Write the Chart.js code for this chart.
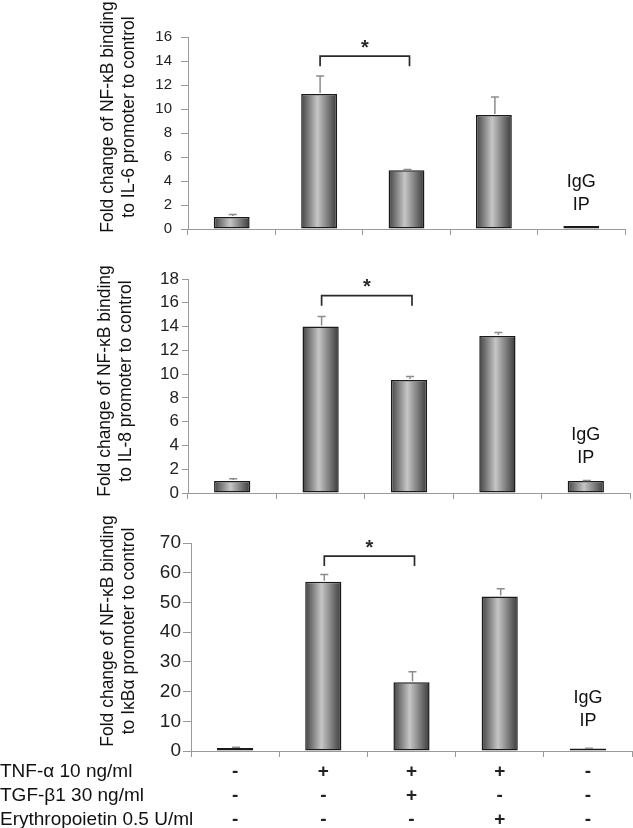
<!DOCTYPE html>
<html lang="en">
<head>
<meta charset="UTF-8">
<title>NF-kB ChIP</title>
<style>
  body { margin: 0; background: #fff; }
  .painel { position: absolute; left: 0; }
</style>
</head>
<body>
<canvas id="il6" class="painel" width="633" height="250" style="top:0px"></canvas>
<canvas id="il8" class="painel" width="633" height="262" style="top:250px"></canvas>
<canvas id="ikba" class="painel" width="633" height="316" style="top:512px"></canvas>

<script src="https://cdn.jsdelivr.net/npm/chart.js"></script>
<script>
// data
const conditions = ['control', 'TNF', 'TNF + TGF', 'TNF + EPO', 'IgG'];
const il6Values  = [1.0, 11.25, 4.9, 9.5, 0.25];
const il6Errors  = [0.2, 1.5, 0.05, 1.5, 0];
const il8Values  = [1.0, 14.0, 9.5, 13.2, 1.0];
const il8Errors  = [0.2, 0.85, 0.3, 0.3, 0.05];
const ikbaValues = [1.0, 57.0, 23.1, 52.0, 0.8];
const ikbaErrors = [0.3, 2.4, 3.6, 2.6, 0.1];
const tnfRow = ['-', '+', '+', '+', '-'];
const tgfRow = ['-', '-', '+', '-', '-'];
const epoRow = ['-', '-', '-', '+', '-'];
const rowNames = ['TNF-\u03b1 10 ng/ml', 'TGF-\u03b21 30 ng/ml', 'Erythropoietin 0.5 U/ml'];
const sigLevels = [14.4, 16.6, 65.6];   // height of the * bracket (TNF vs TNF+TGF)

const FONT = "'Liberation Sans', Arial, sans-serif";
const barShare = 0.41;
Chart.defaults.font.family = FONT;
Chart.defaults.color = '#222';

// cylinder look: dark edges, light centre
function cylinder(context) {
  const chart = context.chart;
  const xs = chart.scales.x;
  if (!xs || context.dataIndex === undefined) return '#888';
  const cx = xs.getPixelForValue(context.dataIndex);
  const half = xs.width / conditions.length * barShare / 2;
  if (!isFinite(cx) || !isFinite(half) || half <= 0) return '#888';
  const g = chart.ctx.createLinearGradient(cx - half, 0, cx + half, 0);
  g.addColorStop(0, '#424242');
  g.addColorStop(0.45, '#c6c6c6');
  g.addColorStop(1, '#3a3a3a');
  return g;
}

const errorBars = {
  id: 'errorBars',
  afterDatasetsDraw(chart, args, opts) {
    const {ctx, scales: {x, y}} = chart;
    const vals = chart.data.datasets[0].data;
    ctx.save();
    ctx.strokeStyle = '#8c8c8c';
    ctx.lineWidth = 1.5;
    opts.errors.forEach((e, i) => {
      if (!e) return;
      const px = x.getPixelForValue(i) + 1;
      const base = y.getPixelForValue(vals[i]) - 1;
      const top = y.getPixelForValue(vals[i] + e);
      ctx.beginPath();
      ctx.moveTo(px, base); ctx.lineTo(px, top);
      ctx.moveTo(px - 4, top); ctx.lineTo(px + 4, top);
      ctx.stroke();
    });
    ctx.restore();
  }
};

const extras = {
  id: 'extras',
  afterDraw(chart, args, opts) {
    const {ctx, chartArea, scales: {x, y}} = chart;
    ctx.save();
    // significance bracket
    const x1 = x.getPixelForValue(1) + 1, x2 = x.getPixelForValue(2) + 3;
    const yb = y.getPixelForValue(opts.level);
    ctx.strokeStyle = '#2a2a2a';
    ctx.lineWidth = 1.7;
    ctx.beginPath();
    ctx.moveTo(x1, yb + 10); ctx.lineTo(x1, yb); ctx.lineTo(x2, yb); ctx.lineTo(x2, yb + 10);
    ctx.stroke();
    ctx.fillStyle = '#2a2a2a';
    ctx.font = 'bold 20px ' + FONT;
    ctx.textAlign = 'center';
    ctx.textBaseline = 'middle';
    ctx.fillText('*', (x1 + x2) / 2, yb - 8);
    // IgG IP label
    ctx.fillStyle = '#111';
    ctx.font = '18px ' + FONT;
    ctx.textBaseline = 'middle';
    const xi = x.getPixelForValue(4);
    const yi = chartArea.bottom - opts.igg;
    ctx.fillText('IgG', xi, yi);
    ctx.fillText('IP', xi, yi + 23);
    // rotated y title
    ctx.font = '17.5px ' + FONT;
    const yc = (chartArea.top + chartArea.bottom) / 2 + opts.titleShift;
    opts.title.forEach((line, i) => {
      ctx.save();
      ctx.translate(opts.titleX + i * 21, yc);
      ctx.rotate(-Math.PI / 2);
      ctx.fillText(line, 0, 0);
      ctx.restore();
    });
    // treatment row names
    if (opts.rows) {
      ctx.font = '19px ' + FONT;
      ctx.textAlign = 'left';
      opts.rows.forEach((name, i) => {
        ctx.fillText(name, 0, x.top + 9 + 24 * (i + 0.5));
      });
    }
    ctx.restore();
  }
};

function makePanel(id, values, errors, o) {
  const labels = o.withRows
    ? conditions.map((c, i) => [tnfRow[i], tgfRow[i], epoRow[i]])
    : conditions;
  return new Chart(document.getElementById(id), {
    type: 'bar',
    data: {
      labels: labels,
      datasets: [{
        data: values,
        backgroundColor: cylinder,
        borderColor: '#1a1a1a',
        borderWidth: 1.5,
        borderSkipped: false,
        barPercentage: barShare,
        categoryPercentage: 1
      }]
    },
    options: {
      responsive: false,
      animation: false,
      layout: { padding: { top: o.top, right: o.right, left: 0, bottom: 0 } },
      scales: {
        x: {
          grid: { drawOnChartArea: false, offset: true, tickLength: 6, color: '#9a9a9a' },
          border: { color: '#9a9a9a', width: 1 },
          ticks: {
            display: !!o.withRows,
            autoSkip: false, maxRotation: 0, padding: 3,
            color: '#222',
            font: { size: 19, weight: 'bold', lineHeight: '24px' }
          },
          afterFit: s => { s.height = o.xHeight; }
        },
        y: {
          min: 0, max: o.max,
          grid: { drawOnChartArea: false, tickLength: o.tickLen, color: '#9a9a9a' },
          border: { color: '#9a9a9a', width: 1 },
          ticks: { stepSize: o.step, padding: o.tickPad, color: '#222', font: { size: o.tickSize } },
          afterFit: s => { s.width = o.left; }
        }
      },
      plugins: {
        legend: { display: false },
        tooltip: { enabled: false },
        errorBars: { errors: errors },
        extras: {
          level: o.level, igg: o.igg,
          title: o.title, titleX: o.titleX, titleShift: o.titleShift,
          rows: o.withRows ? rowNames : null
        }
      }
    },
    plugins: [errorBars, extras]
  });
}

makePanel('il6', il6Values, il6Errors, {
  max: 16, step: 2, tickSize: 15, tickLen: 7, tickPad: 9,
  top: 37, right: 8, left: 188, xHeight: 21,
  level: sigLevels[0], igg: 47,
  title: ['Fold change of NF-\u03baB binding', 'to IL-6 promoter to control'],
  titleX: 108, titleShift: -16
});

makePanel('il8', il8Values, il8Errors, {
  max: 18, step: 2, tickSize: 17, tickLen: 6, tickPad: 3,
  top: 29, right: 3, left: 188, xHeight: 19,
  level: sigLevels[1], igg: 58,
  title: ['Fold change of NF-\u03baB binding', 'to IL-8 promoter to control'],
  titleX: 105, titleShift: -5
});

makePanel('ikba', ikbaValues, ikbaErrors, {
  max: 70, step: 10, tickSize: 19, tickLen: 8, tickPad: 2,
  top: 31, right: 1, left: 191, xHeight: 77,
  level: sigLevels[2], igg: 53,
  title: ['Fold change of NF-\u03baB binding', 'to I\u03baB\u03b1 promoter to control'],
  titleX: 108, titleShift: -16,
  withRows: true
});
</script>
</body>
</html>
